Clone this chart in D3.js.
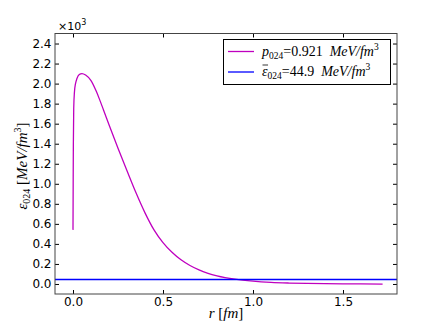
<!DOCTYPE html>
<html>
<head>
<meta charset="utf-8">
<script src="https://cdn.jsdelivr.net/npm/d3@7"></script>
<style>
  body { margin: 0; background: #fff; }
  svg { display: block; }
  .tick text { font-family: "DejaVu Sans", sans-serif; font-size: 12px; fill: #000; }
  .math { font-family: "Liberation Serif", "DejaVu Serif", serif; }
</style>
</head>
<body>
<svg id="chart" width="441" height="327"></svg>
<script>
// energy density profile, r in fm, eps in MeV/fm^3
var rVals   = [0.0, 0.001, 0.002, 0.004, 0.008, 0.014, 0.022, 0.035, 0.05, 0.07, 0.1, 0.13, 0.15, 0.17, 0.2, 0.25, 0.3, 0.35, 0.4, 0.45, 0.5, 0.55, 0.6, 0.65, 0.7, 0.75, 0.8, 0.9, 1.0, 1.1, 1.2, 1.3, 1.4, 1.5, 1.6, 1.72];
var epsVals = [540, 1000, 1400, 1750, 1915, 2000, 2050, 2090, 2100, 2085, 2030, 1920, 1830, 1735, 1590, 1355, 1130, 910, 710, 540, 413, 316, 241, 184, 140, 107, 82, 48, 28, 16, 9.5, 5.5, 3, 1.5, 0.5, -1];
var epsMean = 44.9;
var pMean = 0.921;

var xTicks = [0.0, 0.5, 1.0, 1.5];
var yTicks = [0, 200, 400, 600, 800, 1000, 1200, 1400, 1600, 1800, 2000, 2200, 2400];

(function () {
var svg = d3.select("#chart");
var left = 55, right = 397, top = 33.5, bottom = 294;

var x = d3.scaleLinear().domain([-0.1, 1.8]).range([left, right]);
var y = d3.scaleLinear().domain([-100, 2500]).range([bottom, top]);

// axes, ticks pointing inward
var fmt = function(d){ return (d/1000).toFixed(1); };
function clean(g){ g.select(".domain").remove(); g.selectAll("line").attr("stroke", "#000"); }
svg.append("g").attr("transform", "translate(0," + bottom + ")")
  .call(d3.axisBottom(x).tickValues(xTicks).tickSize(-4).tickPadding(3.5).tickFormat(d3.format(".1f")))
  .call(clean);
svg.append("g").attr("transform", "translate(0," + top + ")")
  .call(d3.axisTop(x).tickValues(xTicks).tickSize(-4).tickFormat(""))
  .call(clean);
svg.append("g").attr("transform", "translate(" + left + ",0)")
  .call(d3.axisLeft(y).tickValues(yTicks).tickSize(-4).tickPadding(3.5).tickFormat(fmt))
  .call(clean);
svg.append("g").attr("transform", "translate(" + right + ",0)")
  .call(d3.axisRight(y).tickValues(yTicks).tickSize(-4).tickFormat(""))
  .call(clean);

// clip
svg.append("clipPath").attr("id", "clip").append("rect")
  .attr("x", left).attr("y", top).attr("width", right - left).attr("height", bottom - top);

var pts = rVals.map(function(r, i){ return [r, epsVals[i]]; });
var line = d3.line().x(function(d){ return x(d[0]); }).y(function(d){ return y(d[1]); }).curve(d3.curveMonotoneX);

svg.append("path").datum(pts)
  .attr("d", line).attr("fill", "none").attr("stroke", "#bf00bf").attr("stroke-width", 1.3)
  .attr("clip-path", "url(#clip)");
svg.append("line")
  .attr("x1", x(-0.1)).attr("x2", x(1.8)).attr("y1", y(epsMean)).attr("y2", y(epsMean))
  .attr("stroke", "#0000ff").attr("stroke-width", 1.3);

svg.append("rect").attr("x", left).attr("y", top)
  .attr("width", right - left).attr("height", bottom - top)
  .attr("fill", "none").attr("stroke", "#444").attr("stroke-width", 1);

// multiplier
var mult = svg.append("text").attr("x", 58).attr("y", 30)
  .style("font-family", "DejaVu Sans, sans-serif").style("font-size", "11px");
mult.append("tspan").text("\u00d710");
mult.append("tspan").attr("dy", -5).style("font-size", "8px").text("3");

// axis labels
var xl = svg.append("text").attr("class", "math").attr("x", 226).attr("y", 318)
  .attr("text-anchor", "middle").style("font-size", "15px");
xl.append("tspan").style("font-style", "italic").text("r");
xl.append("tspan").text(" [");
xl.append("tspan").style("font-style", "italic").text("fm");
xl.append("tspan").text("]");

var yl = svg.append("text").attr("class", "math")
  .attr("transform", "translate(27,166) rotate(-90)")
  .attr("text-anchor", "middle").style("font-size", "15px");
yl.append("tspan").style("font-style", "italic").text("\u03b5");
yl.append("tspan").attr("dy", 3).style("font-size", "10px").text("024");
yl.append("tspan").attr("dy", -3).text(" [");
yl.append("tspan").style("font-style", "italic").text("MeV/fm");
yl.append("tspan").attr("dy", -6).style("font-size", "10px").text("3");
yl.append("tspan").attr("dy", 6).text("]");

// legend
var lg = svg.append("g");
lg.append("rect").attr("x", 223.5).attr("y", 39.5).attr("width", 167).attr("height", 45)
  .attr("fill", "#fff").attr("stroke", "#000").attr("stroke-width", 1);
var legendItems = [
  { sym: "p", val: pMean, color: "#bf00bf", bar: false },
  { sym: "\u03b5", val: epsMean, color: "#0000ff", bar: true }
];
legendItems.forEach(function(it, i){
  var yy = 51.5 + i * 20.5;
  lg.append("line").attr("x1", 228).attr("x2", 254).attr("y1", yy).attr("y2", yy)
    .attr("stroke", it.color).attr("stroke-width", 1.3);
  var t = lg.append("text").attr("class", "math").attr("x", 262).attr("y", yy + 4)
    .style("font-size", "14px");
  var s = t.append("tspan").style("font-style", "italic").text(it.sym);
  t.append("tspan").attr("dy", 3).style("font-size", "9.5px").text("024");
  t.append("tspan").attr("dy", -3).text("=" + it.val + "\u2002");
  t.append("tspan").style("font-style", "italic").text("MeV/fm");
  t.append("tspan").attr("dy", -6).style("font-size", "9.5px").text("3");
  if (it.bar) {
    var w = s.node().getComputedTextLength();
    lg.append("line").attr("x1", 262.5).attr("x2", 262.5 + w).attr("y1", yy - 7).attr("y2", yy - 7)
      .attr("stroke", "#000").attr("stroke-width", 0.8);
  }
});
})();
</script>
</body>
</html>
